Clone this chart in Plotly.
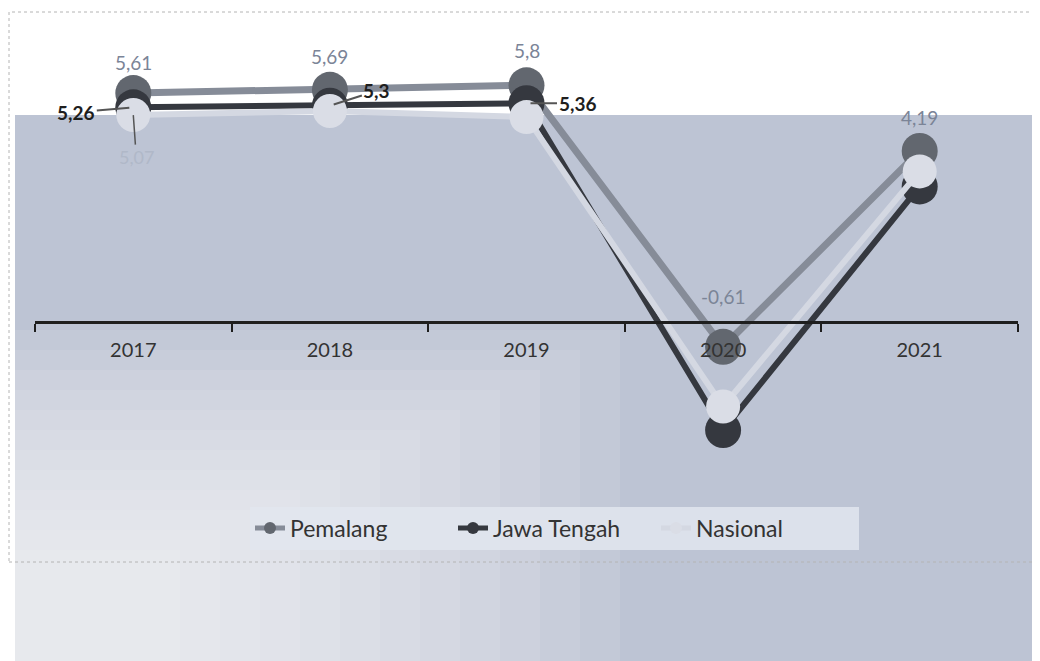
import plotly.graph_objects as go

years = ["2017", "2018", "2019", "2020", "2021"]
pemalang = [5.61, 5.69, 5.80, -0.61, 4.19]
jawa_tengah = [5.26, 5.30, 5.36, -2.65, 3.32]
nasional = [5.07, 5.17, 5.02, -2.07, 3.69]

# which labels are legible in the reference
pemalang_show = [True, True, True, True, True]
jateng_show = [True, True, True, False, False]
nasional_show = [True, False, False, False, False]


def fmt(v):
    return f"{v:g}".replace(".", ",")


W, H = 1040, 661
OFF = 8  # page offset of the figure inside the browser window
L, R, T, B = 27, 30, 12, 189
PW, PH = W - L - R, H - T - B


def px(x):
    return (x - OFF - L) / PW


def py(y):
    return (H - B - (y - OFF)) / PH


FONT = "Lato, Open Sans, sans-serif"
fig = go.Figure()

# scan-like background tint
fig.add_shape(type="rect", xref="paper", yref="paper", x0=px(15), x1=px(1050), y0=py(115), y1=py(680),
              fillcolor="#bdc4d4", line_width=0, layer="below")
for k in range(12):
    fig.add_shape(type="rect", xref="paper", yref="paper",
                  x0=px(0), x1=px(620 - 40 * k), y0=py(680), y1=py(330 + 20 * k),
                  fillcolor="rgba(255,255,255,0.09)", line_width=0, layer="below")
fig.add_shape(type="rect", xref="paper", yref="paper", x0=px(9), x1=px(1045), y0=py(562), y1=py(12),
              fillcolor="rgba(0,0,0,0)", line=dict(color="#b4b4b4", width=1, dash="dot"), layer="below")

fig.add_trace(go.Scatter(
    x=years, y=pemalang, name="Pemalang", mode="lines+markers",
    line=dict(color="#868c98", width=7),
    marker=dict(size=36, color="#62676f"),
    cliponaxis=False,
))
fig.add_trace(go.Scatter(
    x=years, y=jawa_tengah, name="Jawa Tengah", mode="lines+markers",
    line=dict(color="#35383f", width=6),
    marker=dict(size=36, color="#35383f"),
    cliponaxis=False,
))
fig.add_trace(go.Scatter(
    x=years, y=nasional, name="Nasional", mode="lines+markers",
    line=dict(color="#d4d8e2", width=6),
    marker=dict(size=34, color="#dadde6"),
    cliponaxis=False,
))

# Pemalang labels above the points
pem_shift = [31, 33, 35, 50, 33]
for i, (v, s) in enumerate(zip(pemalang, pemalang_show)):
    if s:
        fig.add_annotation(x=i, y=v, text=fmt(v), showarrow=False, yshift=pem_shift[i],
                           font=dict(family=FONT, size=19, color="#7b8497"))

# Jawa Tengah labels with leader lines
jt_offsets = [(-57, 5), (47, -15), (51, 0)]
for i, (v, s) in enumerate(zip(jawa_tengah, jateng_show)):
    if s:
        ax, ay = jt_offsets[i]
        fig.add_annotation(x=i, y=v, text="<b>" + fmt(v) + "</b>", showarrow=True, arrowhead=0,
                           arrowwidth=2, arrowcolor="#555", ax=ax, ay=ay, standoff=4,
                           font=dict(family=FONT, size=19, color="#1e1e1e"))

# Nasional labels
for i, (v, s) in enumerate(zip(nasional, nasional_show)):
    if s:
        fig.add_annotation(x=i, y=v, text=fmt(v), showarrow=True, arrowhead=0,
                           arrowwidth=1.5, arrowcolor="#555", ax=3, ay=42, standoff=0,
                           font=dict(family=FONT, size=18, color="#b0b8c8"))

y0, y1 = -3.873, 7.40
zero_pos = (0 - y0) / (y1 - y0)

fig.update_layout(
    width=W, height=H,
    margin=dict(l=L, r=R, t=T, b=B),
    paper_bgcolor="white", plot_bgcolor="rgba(0,0,0,0)",
    showlegend=True,
    legend=dict(orientation="h", x=px(250), xanchor="left", y=py(528), yanchor="middle",
                font=dict(family=FONT, size=23, color="#333"),
                bgcolor="rgba(226,230,238,0.85)", entrywidth=158, entrywidthmode="pixels",
                itemsizing="constant", traceorder="normal"),
    xaxis=dict(type="category", range=[-0.5, 4.5], anchor="free", position=zero_pos,
               showline=True, linecolor="#1e1e1e", linewidth=3,
               ticks="outside", tickson="boundaries", ticklen=8, tickwidth=2, tickcolor="#1e1e1e",
               showgrid=False, tickfont=dict(family=FONT, size=20, color="#333"),
               ticklabelstandoff=9),
    yaxis=dict(range=[y0, y1], visible=False, showgrid=False, zeroline=False),
)

fig.write_html("out.html")
